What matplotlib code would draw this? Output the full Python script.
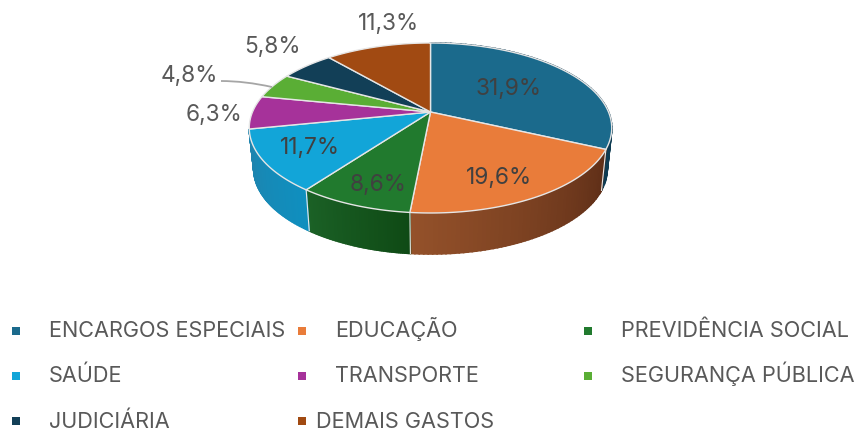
import matplotlib
matplotlib.use("Agg")
import matplotlib.pyplot as plt
import numpy as np
from matplotlib.patches import PathPatch, Rectangle
from matplotlib.path import Path

categories = ["ENCARGOS ESPECIAIS", "EDUCAÇÃO", "PREVIDÊNCIA SOCIAL", "SAÚDE",
              "TRANSPORTE", "SEGURANÇA PÚBLICA", "JUDICIÁRIA", "DEMAIS GASTOS"]
values = [31.9, 19.6, 8.6, 11.7, 6.3, 4.8, 5.8, 11.3]
labels = ["31,9%", "19,6%", "8,6%", "11,7%", "6,3%", "4,8%", "5,8%", "11,3%"]

colors = ["#1B6A8C", "#E97C3A", "#217A2E", "#12A5D8", "#A6329A", "#5AAE35", "#123F57", "#A14A12"]
# wall gradient, left and right end of each slice
wall_colors = [("#0E3B52", "#0E3B52"), ("#94512A", "#5E2E17"), ("#1B6126", "#0F4A15"),
               ("#1E84AE", "#0F8FBF"), None, None, None, None]

label_xy = [(509, 89), (499, 178), (378, 185), (310, 148), (214, 115), (189, 76), (272, 47), (389, 24)]
label_colors = ["#404040"] * 4 + ["#595959"] * 4

legend_x = [(16, 49), (302, 335), (588, 621), (16, 49), (302, 335), (588, 621), (16, 49), (302, 316)]
legend_y = [331, 331, 331, 376, 376, 376, 421, 421]
legend_base = [337, 337, 337, 382, 382, 382, 428, 428]

# pie geometry (px), perspective projection of a circle
cx, cy = 430.5, 112
a, b, k = 178, 82, 0.188
depth = 41
bottom_sx = 0.975

plt.rcParams["font.family"] = ["Inter", "DejaVu Sans"]


def project(theta, r=1.0):
    x = r * np.sin(theta)
    y = r * np.cos(theta)
    d = 1 + k * y
    return cx + a * x / d, cy - b * y / d


def mix(c1, c2, t):
    c1 = np.array(matplotlib.colors.to_rgb(c1))
    c2 = np.array(matplotlib.colors.to_rgb(c2))
    return c1 + (c2 - c1) * t


fig = plt.figure(figsize=(8.62, 4.33), dpi=100)
ax = fig.add_axes([0, 0, 1, 1])
ax.set_xlim(0, 862)
ax.set_ylim(433, 0)
ax.axis("off")

edges = np.cumsum([0] + values) / sum(values) * 2 * np.pi

# walls first
for i in range(len(values)):
    if wall_colors[i] is None:
        continue
    th = np.linspace(edges[i], edges[i + 1], 60)
    for j in range(len(th) - 1):
        x1, y1 = project(th[j:j + 2])
        x2 = cx + (x1 - cx) * bottom_sx
        y2 = y1 + depth
        # theta runs clockwise so on the front it goes right to left
        c = mix(wall_colors[i][1], wall_colors[i][0], j / (len(th) - 2))
        ax.fill([x1[0], x1[1], x2[1], x2[0]], [y1[0], y1[1], y2[1], y2[0]],
                color=c, lw=1.2, zorder=1)
    # seam between walls
    xe, ye = project(edges[i + 1])
    if i < 3:
        ax.plot([xe, cx + (xe - cx) * bottom_sx], [ye, ye + depth], color="#E8E8E8", lw=0.8, zorder=2)

# top face
for i in range(len(values)):
    th = np.linspace(edges[i], edges[i + 1], 120)
    x, y = project(th)
    ax.fill(np.r_[cx, x], np.r_[cy, y], facecolor=colors[i], edgecolor="#E6E6E6", lw=1.0, zorder=3)

# leader line of 4,8%
leader = Path([(221, 81), (245, 81), (272, 87)], [Path.MOVETO, Path.CURVE3, Path.CURVE3])
ax.add_patch(PathPatch(leader, fc="none", ec="#A6A6A6", lw=1.3, zorder=4))

for txt, (lx, ly), col in zip(labels, label_xy, label_colors):
    ax.text(lx, ly, txt, fontsize=16.3, color=col, ha="center", va="center", zorder=5)

for name, col, (mx, tx), ly, base in zip(categories, colors, legend_x, legend_y, legend_base):
    ax.add_patch(Rectangle((mx - 4, ly - 4), 8, 8, color=col, lw=0))
    ax.text(tx, base, name, fontsize=15.6, color="#595959", ha="left", va="baseline")

fig.savefig("out.png", dpi=100)
